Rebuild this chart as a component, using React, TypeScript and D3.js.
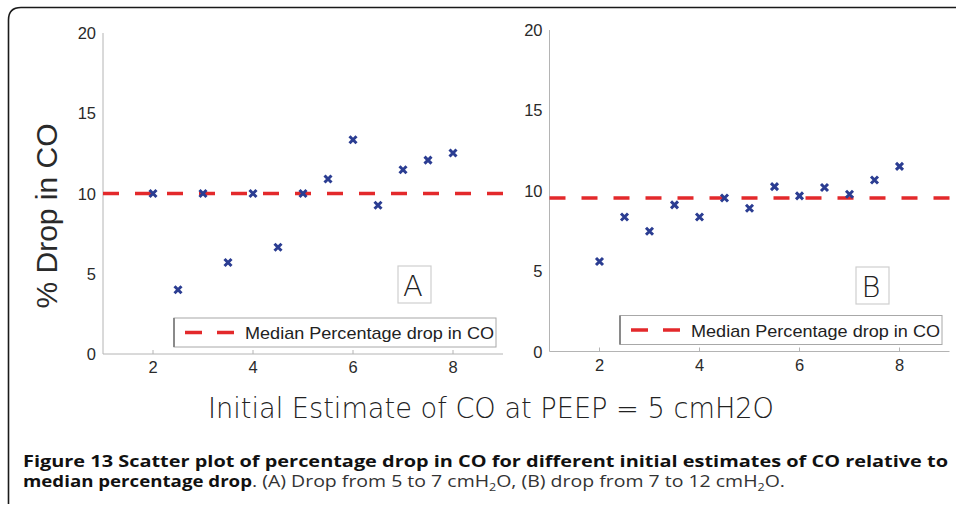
import React from "react";
import * as d3 from "d3";

const initialCO = [2, 2.5, 3, 3.5, 4, 4.5, 5, 5.5, 6, 6.5, 7, 7.5, 8];
const dropA = [10, 4.0, 10, 5.7, 10, 6.65, 10, 10.9, 13.35, 9.27, 11.48, 12.08, 12.52];
const dropB = [5.6, 8.37, 7.48, 9.12, 8.37, 9.55, 8.91, 10.26, 9.68, 10.2, 9.78, 10.67, 11.52];
const xTicks = [2, 4, 6, 8];
const yTicks = [0, 5, 10, 15, 20];
const legendLabel = "Median Percentage drop in CO";
const yLabel = "% Drop in CO";
const xLabel = "Initial Estimate of CO at PEEP = 5 cmH2O";

const BLUE = "#2b3d92";
const RED = "#e3292b";
const AXIS = "#b4b4b4";
const TXT = "#2a2a2a";

type PanelProps = {
  values: number[];
  letter: string;
  xRange: [number, number];
  yRange: [number, number];
  legend: { x: number; y: number };
  letterBox: { x: number; y: number };
  showYLabel: boolean;
};

function Panel({ values, letter, xRange, yRange, legend, letterBox, showYLabel }: PanelProps) {
  const x = d3.scaleLinear().domain([1, 9]).range(xRange);
  const y = d3.scaleLinear().domain([0, 20]).range(yRange);
  const median = d3.median(values) as number;
  const x0 = xRange[0];
  const x1 = xRange[1];
  const yb = yRange[0];
  const s = 3.5;
  return (
    <g>
      <line x1={x0} x2={x0} y1={y(20)} y2={yb} stroke={AXIS} strokeWidth={1} />
      <line x1={x0} x2={x1} y1={yb} y2={yb} stroke={AXIS} strokeWidth={1} />
      {xTicks.map((t) => (
        <g key={"xt" + t}>
          <line x1={x(t)} x2={x(t)} y1={yb} y2={yb - 4} stroke={AXIS} strokeWidth={1} />
          <text x={x(t)} y={yb + 19} textAnchor="middle" fontFamily="Liberation Sans, Arial, sans-serif" fontSize={16.5} fill={TXT}>
            {t}
          </text>
        </g>
      ))}
      {yTicks.map((t) => (
        <text key={"yt" + t} x={x0 - 7} y={y(t) + 6} textAnchor="end" fontFamily="Liberation Sans, Arial, sans-serif" fontSize={16.5} fill={TXT}>
          {t}
        </text>
      ))}
      {showYLabel && (
        <text
          transform={`translate(57,${(y(20) + yb) / 2 + 22.5}) rotate(-90)`}
          textAnchor="middle"
          fontFamily="Liberation Sans, Arial, sans-serif"
          fontSize={30}
          fill={TXT}
        >
          {yLabel}
        </text>
      )}
      <line x1={x0} x2={x1} y1={y(median)} y2={y(median)} stroke={RED} strokeWidth={3.6} strokeDasharray="16,16" />
      {initialCO.map((c, i) => (
        <path
          key={"m" + i}
          d={`M${x(c) - s},${y(values[i]) - s}L${x(c) + s},${y(values[i]) + s}M${x(c) - s},${y(values[i]) + s}L${x(c) + s},${y(values[i]) - s}`}
          stroke={BLUE}
          strokeWidth={3}
          fill="none"
        />
      ))}
      <rect x={letterBox.x} y={letterBox.y} width={33} height={37} fill="white" stroke="#cfcfcf" strokeWidth={1.2} />
      <text x={letterBox.x + 15} y={letterBox.y + 30} textAnchor="middle" fontFamily="DejaVu Sans, sans-serif" fontWeight={200} fontSize={29} fill="#222">
        {letter}
      </text>
      <rect x={legend.x} y={legend.y} width={322} height={29} fill="white" stroke="#a8a8a8" strokeWidth={1} />
      <line x1={legend.x} x2={legend.x} y1={legend.y} y2={legend.y + 29} stroke="#8a8a8a" strokeWidth={2} />
      <line x1={legend.x + 11} x2={legend.x + 60} y1={legend.y + 14.5} y2={legend.y + 14.5} stroke={RED} strokeWidth={3.6} strokeDasharray="17,15" />
      <text x={legend.x + 71} y={legend.y + 21} fontFamily="Liberation Sans, Arial, sans-serif" fontSize={17} fill="#222" textLength={249} lengthAdjust="spacingAndGlyphs">
        {legendLabel}
      </text>
    </g>
  );
}

export default function App() {
  return (
    <svg width={956} height={507} style={{ position: "absolute", left: 0, top: 0, background: "white" }}>
      <rect x={0} y={0} width={956} height={507} fill="white" />
      <path d="M8.5,504 L8.5,20 Q8.5,7.5 21,7.5 L956,7.5" fill="none" stroke="#1a1a1a" strokeWidth={1.6} />
      <Panel
        values={dropA}
        letter="A"
        xRange={[103, 503]}
        yRange={[354, 33]}
        legend={{ x: 174, y: 318 }}
        letterBox={{ x: 398, y: 266 }}
        showYLabel={true}
      />
      <Panel
        values={dropB}
        letter="B"
        xRange={[549.5, 949.5]}
        yRange={[351.5, 30]}
        legend={{ x: 620, y: 315.5 }}
        letterBox={{ x: 856, y: 267 }}
        showYLabel={false}
      />
      <text x={208} y={418} fontFamily="DejaVu Sans, sans-serif" fontWeight={200} fontSize={28} fill="#222" textLength={566} lengthAdjust="spacingAndGlyphs">
        {xLabel}
      </text>
      <text x={23} y={467} fontFamily="Open Sans, sans-serif" fontWeight={700} fontSize={15.5} fill="#111" textLength={925} lengthAdjust="spacingAndGlyphs">
        Figure 13 Scatter plot of percentage drop in CO for different initial estimates of CO relative to
      </text>
      <text x={23} y={487} fontFamily="Open Sans, sans-serif" fontWeight={700} fontSize={15.5} fill="#111" textLength={229} lengthAdjust="spacingAndGlyphs">
        median percentage drop
      </text>
      <text x={252} y={487} fontFamily="Open Sans, sans-serif" fontSize={15.5} fill="#333" textLength={533} lengthAdjust="spacingAndGlyphs">
        . (A) Drop from 5 to 7 cmH<tspan fontSize={10} dy={4}>2</tspan>
        <tspan dy={-4}>O, (B) drop from 7 to 12 cmH</tspan>
        <tspan fontSize={10} dy={4}>2</tspan>
        <tspan dy={-4}>O.</tspan>
      </text>
    </svg>
  );
}
